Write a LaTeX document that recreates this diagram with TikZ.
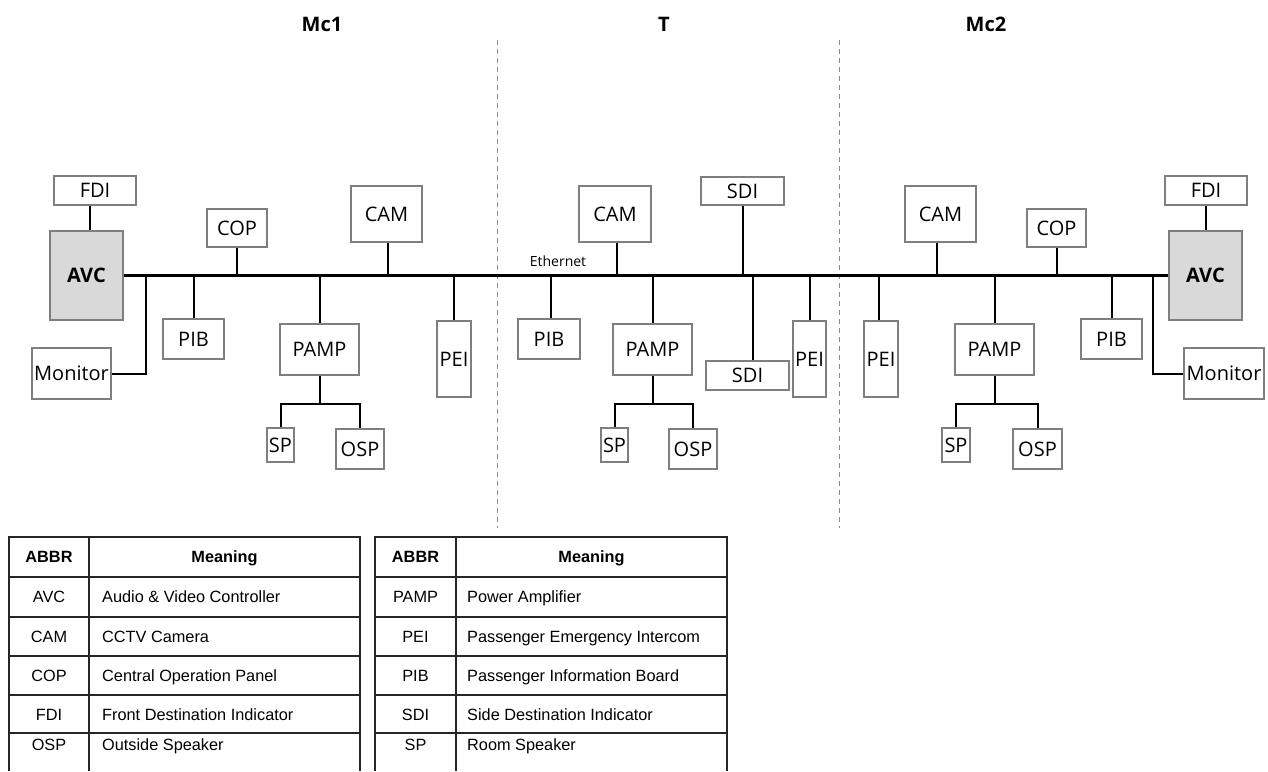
\documentclass[tikz,border=0pt]{standalone}
\usepackage{fontspec}
\setmainfont{Open Sans}
\newfontfamily\tabfont{Liberation Sans}
\definecolor{boxgray}{HTML}{7F7F7F}
\definecolor{avcfill}{HTML}{D9D9D9}
\definecolor{tabline}{HTML}{262626}
\definecolor{dashgray}{HTML}{8C8C8C}
\begin{document}
\begin{tikzpicture}[x=1pt,y=-1pt,
  box/.style={draw=boxgray, line width=1.2pt, inner sep=0pt, fill=white,
    text height=18.3pt, text depth=4pt,
    font=\fontsize{20}{24}\selectfont},
  avcbox/.style={box, fill=avcfill, font=\fontsize{20}{24}\selectfont\bfseries},
  bus/.style={line width=3.6pt, black},
  conn/.style={line width=2pt, black},
  divider/.style={dashgray, line width=1pt, dash pattern=on 5pt off 4pt},
  title/.style={font=\fontsize{20}{24}\selectfont\bfseries},
  tabtext/.style={font=\tabfont\fontsize{16.3}{19}\selectfont, inner sep=0pt,
    text height=15.2pt, text depth=3.5pt},
  tabhead/.style={tabtext, font=\tabfont\fontsize{16.3}{19}\selectfont\bfseries},
  tabrule/.style={tabline, line width=1.3pt}
]
\useasboundingbox (0,0) rectangle (1268,771);

% titles and car dividers
\node[title] (tmc1) at (322,24) {Mc1};
\node[title] (tt) at (664,24) {T};
\node[title] (tmc2) at (986,24) {Mc2};
\draw[divider] (497,40) -- (497,528);
\draw[divider] (839,40) -- (839,528);

% ---- Mc1 ----
\node[box, minimum width=82, minimum height=29] (fdi1) at (95,190.5) {FDI};
\node[avcbox, minimum width=73, minimum height=89] (avc1) at (86.5,275.5) {AVC};
\node[box, minimum width=79, minimum height=51] (mon1) at (71.5,373.5) {Monitor};
\node[box, minimum width=60, minimum height=38] (cop1) at (237,228) {COP};
\node[box, minimum width=61, minimum height=40] (pib1) at (193.5,339) {PIB};
\node[box, minimum width=71, minimum height=56] (cam1) at (386.5,214) {CAM};
\node[box, minimum width=79, minimum height=51] (pamp1) at (319.5,349.5) {PAMP};
\node[box, minimum width=27, minimum height=34] (sp1) at (280.5,445) {SP};
\node[box, minimum width=48, minimum height=40] (osp1) at (360,449) {OSP};
\node[box, minimum width=34, minimum height=76] (pei1) at (454,359) {PEI};

% ---- T ----
\node[box, minimum width=72, minimum height=56] (cam2) at (615,214) {CAM};
\node[box, minimum width=83, minimum height=28] (sdit) at (742.5,191) {SDI};
\node[box, minimum width=62, minimum height=40] (pib2) at (549,339) {PIB};
\node[box, minimum width=79, minimum height=51] (pamp2) at (652.5,349.5) {PAMP};
\node[box, minimum width=27, minimum height=34] (sp2) at (614.5,445) {SP};
\node[box, minimum width=48, minimum height=40] (osp2) at (693,449) {OSP};
\node[box, minimum width=83, minimum height=29] (sdib) at (747.5,375.5) {SDI};
\node[box, minimum width=33, minimum height=76] (pei2) at (809.5,359) {PEI};

% ---- Mc2 ----
\node[box, minimum width=71, minimum height=56] (cam3) at (940.5,214) {CAM};
\node[box, minimum width=59, minimum height=38] (cop3) at (1056.5,228) {COP};
\node[box, minimum width=82, minimum height=29] (fdi3) at (1206,190.5) {FDI};
\node[avcbox, minimum width=73, minimum height=89] (avc3) at (1205.5,275.5) {AVC};
\node[box, minimum width=34, minimum height=76] (pei3) at (881,359) {PEI};
\node[box, minimum width=79, minimum height=51] (pamp3) at (994.5,349.5) {PAMP};
\node[box, minimum width=28, minimum height=34] (sp3) at (956,445) {SP};
\node[box, minimum width=49, minimum height=40] (osp3) at (1037.5,449) {OSP};
\node[box, minimum width=61, minimum height=40] (pib3) at (1111.5,339) {PIB};
\node[box, minimum width=80, minimum height=51] (mon3) at (1224,373.5) {Monitor};

% Ethernet bus
\draw[bus] (avc1.east) -- (avc3.west);
\node[font=\fontsize{14}{16}\selectfont, inner sep=0pt] (eth) at (558,261) {Ethernet};

% helper tap points
\coordinate (fdi1tap) at ([xshift=-5pt]fdi1.south);
\coordinate (cam1tap) at ([xshift=1.5pt]cam1.south);
\coordinate (cam2tap) at ([xshift=2pt]cam2.south);
\coordinate (pib2tap) at ([xshift=2pt]pib2.north);
\coordinate (sdibtap) at ([xshift=5.5pt]sdib.north);
\coordinate (cam3tap) at ([xshift=-3.5pt]cam3.south);
\coordinate (pei3tap) at ([xshift=-2pt]pei3.north);
\coordinate (m1tap) at (146,275.5);
\coordinate (m3tap) at (1153,275.5);
\coordinate (br1) at (319.5,404);
\coordinate (br2) at (652.5,404);
\coordinate (br3) at (994.5,404);

% Mc1 connectors
\draw[conn] (fdi1tap) -- (fdi1tap |- avc1.north);
\draw[conn] (m1tap) |- (mon1.east);
\draw[conn] (cop1.south) -- (cop1.south |- avc1.east);
\draw[conn] (pib1.north) -- (pib1.north |- avc1.east);
\draw[conn] (cam1tap) -- (cam1tap |- avc1.east);
\draw[conn] (pamp1.south) -- (br1);
\draw[conn] (pamp1.north) -- (pamp1.north |- avc1.east);
\draw[conn] (sp1.north) |- (br1) -| (osp1.north);
\draw[conn] (pei1.north) -- (pei1.north |- avc1.east);

% T connectors
\draw[conn] (cam2tap) -- (cam2tap |- avc1.east);
\draw[conn] (sdit.south) -- (sdit.south |- avc1.east);
\draw[conn] (pib2tap) -- (pib2tap |- avc1.east);
\draw[conn] (pamp2.north) -- (pamp2.north |- avc1.east);
\draw[conn] (pamp2.south) -- (br2);
\draw[conn] (sp2.north) |- (br2) -| (osp2.north);
\draw[conn] (sdibtap) -- (sdibtap |- avc1.east);
\draw[conn] (pei2.north) -- (pei2.north |- avc1.east);

% Mc2 connectors
\draw[conn] (cam3tap) -- (cam3tap |- avc3.west);
\draw[conn] (cop3.south) -- (cop3.south |- avc3.west);
\draw[conn] (fdi3.south) -- (fdi3.south |- avc3.north);
\draw[conn] (pei3tap) -- (pei3tap |- avc3.west);
\draw[conn] (pamp3.north) -- (pamp3.north |- avc3.west);
\draw[conn] (pamp3.south) -- (br3);
\draw[conn] (sp3.north) |- (br3) -| (osp3.north);
\draw[conn] (pib3.north) -- (pib3.north |- avc3.west);
\draw[conn] (m3tap) |- (mon3.west);

% ---- Table 1 ----
\draw[tabrule] (9,771) -- (9,537) -- (360,537) -- (360,771);
\draw[tabrule] (89,537) -- (89,771);
\foreach \yy in {577,617,656,695,733} \draw[tabrule] (9,\yy) -- (360,\yy);
\node[tabhead] (h1a) at (49,557) {ABBR};
\node[tabhead] (h1b) at (224.5,557) {Meaning};
\node[tabtext] (a1) at (49,597) {AVC};
\node[tabtext] (a2) at (49,636.5) {CAM};
\node[tabtext] (a3) at (49,676) {COP};
\node[tabtext] (a4) at (49,714.5) {FDI};
\node[tabtext] (a5) at (49,745) {OSP};
\node[tabtext, anchor=west] (m1) at (102,597) {Audio \& Video Controller};
\node[tabtext, anchor=west] (m2) at (102,636.5) {CCTV Camera};
\node[tabtext, anchor=west] (m3) at (102,676) {Central Operation Panel};
\node[tabtext, anchor=west] (m4) at (102,714.5) {Front Destination Indicator};
\node[tabtext, anchor=west] (m5) at (102,745) {Outside Speaker};

% ---- Table 2 ----
\draw[tabrule] (375,771) -- (375,537) -- (727,537) -- (727,771);
\draw[tabrule] (456,537) -- (456,771);
\foreach \yy in {577,617,656,695,733} \draw[tabrule] (375,\yy) -- (727,\yy);
\node[tabhead] (h2a) at (415.5,557) {ABBR};
\node[tabhead] (h2b) at (591.5,557) {Meaning};
\node[tabtext] (b1) at (415.5,597) {PAMP};
\node[tabtext] (b2) at (415.5,636.5) {PEI};
\node[tabtext] (b3) at (415.5,676) {PIB};
\node[tabtext] (b4) at (415.5,714.5) {SDI};
\node[tabtext] (b5) at (415.5,745) {SP};
\node[tabtext, anchor=west] (n1) at (467,597) {Power Amplifier};
\node[tabtext, anchor=west] (n2) at (467,636.5) {Passenger Emergency Intercom};
\node[tabtext, anchor=west] (n3) at (467,676) {Passenger Information Board};
\node[tabtext, anchor=west] (n4) at (467,714.5) {Side Destination Indicator};
\node[tabtext, anchor=west] (n5) at (467,745) {Room Speaker};
\end{tikzpicture}
\end{document}
